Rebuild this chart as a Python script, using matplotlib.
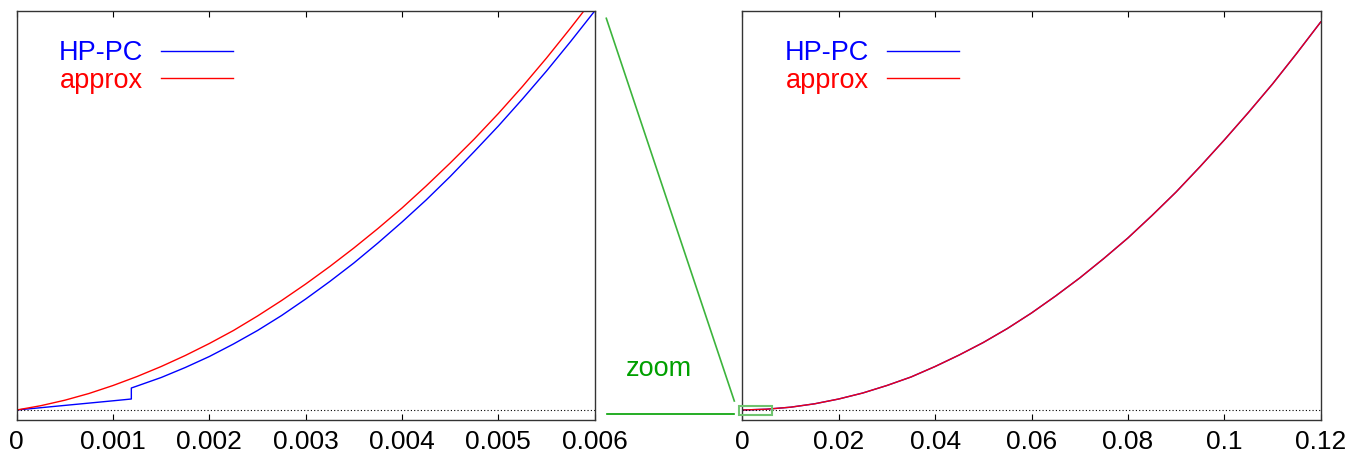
import matplotlib.pyplot as plt
from matplotlib.lines import Line2D
from matplotlib.patches import Rectangle

plt.rcParams["font.family"] = ["Liberation Sans", "DejaVu Sans"]

W, H = 1356, 461

# left panel (x in units of 0.001, y in arbitrary units)
left_x_approx = [0, 0.25, 0.5, 0.75, 1.0, 1.25, 1.5, 1.75, 2.0, 2.25, 2.5, 2.75, 3.0,
                 3.25, 3.5, 3.75, 4.0, 4.25, 4.5, 4.75, 5.0, 5.25, 5.5, 5.75, 6.0]
left_approx = [0, 4.3, 9.8, 16.5, 24.5, 33.5, 43.5, 54.5, 66.5, 79.5, 94, 109.5, 126,
               143.5, 162, 181.5, 202, 224, 247, 271, 296.5, 323.5, 352, 382, 413]
left_x_hppc = [0, 0.25, 0.5, 0.75, 1.0, 1.19, 1.19, 1.25, 1.5, 1.75, 2.0, 2.25, 2.5,
               2.75, 3.0, 3.25, 3.5, 3.75, 4.0, 4.25, 4.5, 4.75, 5.0, 5.25, 5.5, 5.75, 6.0]
left_hppc = [0, 2.3, 4.6, 6.9, 9.2, 11, 22, 24, 32.5, 42.5, 53.5, 66, 79.5,
             94.5, 111, 128.5, 147, 167, 188, 210, 233.5, 258.5, 284, 311, 339, 368.5, 399]
left_ticks = [0, 0.001, 0.002, 0.003, 0.004, 0.005, 0.006]
left_ticklabels = ["0", "0.001", "0.002", "0.003", "0.004", "0.005", "0.006"]

# right panel
right_x = [0, 0.005, 0.01, 0.015, 0.02, 0.025, 0.03, 0.035, 0.04, 0.045, 0.05, 0.055,
           0.06, 0.065, 0.07, 0.075, 0.08, 0.085, 0.09, 0.095, 0.1, 0.105, 0.11, 0.115, 0.12]
right_hppc = [0, 0.8, 2.8, 6.2, 11, 17, 24.5, 33, 43.5, 55, 67.5, 81.5,
              97, 114, 132, 151.5, 172, 194.5, 218, 243.5, 270, 297.5, 326, 356.5, 388]
right_approx = [0, 0.8, 2.8, 6.2, 11, 17, 24.5, 33, 43.5, 55, 67.5, 81.5,
                97, 114, 132, 151.5, 172, 194.5, 218, 243.5, 270, 297.5, 326, 356.5, 388]
right_ticks = [0, 0.02, 0.04, 0.06, 0.08, 0.1, 0.12]
right_ticklabels = ["0", "0.02", "0.04", "0.06", "0.08", "0.1", "0.12"]

BLUE = "#0000ff"
RED = "#ff0000"
GREEN = "#00a000"


def fx(px):
    return px / W


def fy(py):
    return 1 - py / H


fig = plt.figure(figsize=(W / 100, H / 100), dpi=100)
ax_l = fig.add_axes([fx(16.7), fy(420), (594.7 - 16.7) / W, 409 / H])
ax_r = fig.add_axes([fx(742.3), fy(420), (1320.7 - 742.3) / W, 409 / H])

ax_l.plot([x * 0.001 for x in left_x_hppc], left_hppc, color=BLUE, lw=1.0)
ax_l.plot([x * 0.001 for x in left_x_approx], left_approx, color=RED, lw=1.0)
ax_l.set_xlim(0, 0.006)

ax_r.plot(right_x, right_hppc, color=BLUE, lw=1.0)
ax_r.plot(right_x, right_approx, color=RED, lw=1.0, alpha=0.92)
ax_r.set_xlim(0, 0.12)

for ax, ticks, labels in [(ax_l, left_ticks, left_ticklabels),
                          (ax_r, right_ticks, right_ticklabels)]:
    ax.set_ylim(-10, 399)
    ax.axhline(0, color="black", lw=0.8, linestyle=(0, (1, 2)))
    ax.set_xticks(ticks)
    ax.set_xticklabels(labels)
    ax.set_yticks([])
    ax.tick_params(axis="x", direction="in", top=True, length=4, width=0.8,
                   labelsize=19, pad=7)
    for s in ax.spines.values():
        s.set_color("#333333")
        s.set_linewidth(1.0)

    # legend (key drawn by hand, gnuplot style)
    for label, color, base, ly in [("HP-PC", BLUE, 0.8802, 0.9022),
                                   ("approx", RED, 0.8117, 0.8362)]:
        ax.text(0.2185, base, label, color=color, fontsize=19.5,
                ha="right", va="baseline", transform=ax.transAxes)
        ax.add_line(Line2D([0.2497, 0.3742], [ly, ly], color=color, lw=1.0,
                           transform=ax.transAxes))

# zoom box on the right panel
ax_r.add_patch(Rectangle((-0.00075, -4.7), 0.00695, 9.2, fill=False,
                         edgecolor="#6fc46f", lw=1.5, clip_on=False, zorder=5))

# connectors and label between the panels
fig.add_artist(Line2D([fx(606.3), fx(734.3)], [fy(18.3), fy(401)],
                      color="#3cb43c", lw=1.2))
fig.add_artist(Line2D([fx(607.3), fx(734)], [fy(414), fy(414)],
                      color=GREEN, lw=1.2))
fig.text(fx(659), fy(376), "zoom", color=GREEN, fontsize=19.5,
         ha="center", va="baseline")

fig.savefig("out.png", dpi=100)
